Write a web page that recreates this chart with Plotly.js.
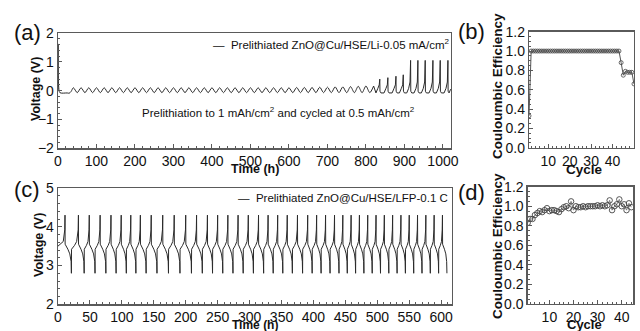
<!DOCTYPE html>
<html>
<head>
<meta charset="utf-8">
<script src="https://cdn.plot.ly/plotly-3.0.1.min.js"></script>
<style>html,body{margin:0;padding:0;background:#fff;}#chart{width:640px;height:331px;}</style>
</head>
<body>
<div id="chart"></div>
<script>
// ---------- Panel (a): Li symmetric-type cycling, voltage vs time ----------
const aStartT = [0, 0.4, 1.5, 5, 24, 29, 34];
const aStartV = [0.0, 1.62, 0.2, -0.07, -0.08, -0.09, -0.03];
const aOscT = [40,50,60,70,80,90,100,110,120,130,140,150,160,170,180,190,200,210,220,230,240,250,260,270,280,290,300,310,320,330,340,350,360,370,380,390,400,410,420,430,440,450,460,470,480,490,500,510,520,530,540,550,560,570,580,590,600,610,620,630,640,650,660,670,680,690,700,710,720,730,740,750,760,770,780,790,800,810,820];
const aOscV = [0.1,-0.07,0.1,-0.07,0.1,-0.07,0.1,-0.07,0.1,-0.07,0.1,-0.07,0.1,-0.07,0.1,-0.07,0.1,-0.07,0.1,-0.07,0.1,-0.07,0.1,-0.07,0.1,-0.07,0.1,-0.07,0.1,-0.07,0.1,-0.07,0.1,-0.07,0.1,-0.07,0.1,-0.07,0.1,-0.07,0.1,-0.07,0.1,-0.07,0.1,-0.07,0.1,-0.07,0.1,-0.07,0.1,-0.07,0.1,-0.07,0.1,-0.07,0.1,-0.07,0.11,-0.07,0.11,-0.07,0.11,-0.07,0.12,-0.07,0.12,-0.07,0.13,-0.07,0.13,-0.07,0.14,-0.07,0.15,-0.07,0.16,-0.07,0.16];
const aSpikeT = [836, 857, 878, 897, 916, 935, 954, 974, 993, 1013];
const aSpikeV = [0.40, 0.45, 0.50, 0.55, 1.05, 1.05, 1.05, 1.05, 1.05, 1.05];
const aEndT = [1017, 1020];
const aEndV = [-0.05, 0.05];

// ---------- Panel (b): Coulombic efficiency ----------
const bCycle = [1,2,3,4,5,6,7,8,9,10,11,12,13,14,15,16,17,18,19,20,21,22,23,24,25,26,27,28,29,30,31,32,33,34,35,36,37,38,39,40,41,42,43,44,45,46,47,48,49,50];
const bCE = [0.33,1.0,1.0,1.0,1.0,1.0,1.0,1.0,1.0,1.0,1.0,1.0,1.0,1.0,1.0,1.0,1.0,1.0,1.0,1.0,1.0,1.0,1.0,1.0,1.0,1.0,1.0,1.0,1.0,1.0,1.0,1.0,1.0,1.0,1.0,1.0,1.0,1.0,1.0,1.0,1.0,1.0,1.0,0.88,0.75,0.79,0.78,0.78,0.78,0.66];

// ---------- Panel (c): full cell vs LFP ----------
const cTopT = [11,32,49,66,83,99,114,129,146,164,182,200,217,234,250,266,282,298,314,329,344,359,375,391,405,419,433,446,459,472,485,498,511,524,537,550,563,576,589,602];
const cBotT = [21,41,58,75,91,107,122,138,155,173,191,209,226,242,258,274,290,306,322,337,352,367,383,398,412,426,440,453,466,479,492,505,518,531,544,557,570,583,596,609];
const cTopV = 4.3, cBotV = 2.8;
const cChargeV = [3.42, 3.52, 3.62, 3.92];   // charge plateau levels (start, mid, late, knee)
const cDischV = [3.55, 3.42, 3.30, 3.10];    // discharge plateau levels (start, mid, late, knee)
const cStartV = 3.5;

// ---------- Panel (d): Coulombic efficiency ----------
const dCycle = [1,2,3,4,5,6,7,8,9,10,11,12,13,14,15,16,17,18,19,20,21,22,23,24,25,26,27,28,29,30,31,32,33,34,35,36,37,38,39,40,41,42,43,44];
const dCE = [0.83,0.87,0.87,0.91,0.93,0.95,0.94,0.96,0.98,0.95,0.96,0.96,0.95,0.94,0.97,0.99,1.0,0.98,1.05,0.96,1.0,0.99,0.99,1.0,0.99,1.0,1.0,1.0,1.0,1.01,1.0,1.01,1.0,1.01,1.06,0.96,1.0,1.02,1.07,1.0,1.02,0.96,1.03,0.99];

// ---------- build traces ----------
const LINE = '#2b2b2b';
const aLateT = [aOscT[aOscT.length-1]], aLateV = [aOscV[aOscV.length-1]];
for (let i = 0; i < aSpikeT.length; i++) {
  const s = aSpikeT[i];
  aLateT.push(s-10, s-5, s-1.5, s, s+0.5, s+3);
  aLateV.push(-0.08, 0.08, 0.2 + (aSpikeV[i] > 0.8 ? 0.1 : 0), aSpikeV[i], -0.02, -0.08);
}
aLateT.push(...aEndT); aLateV.push(...aEndV);

const cT = [0], cV = [cStartV];
for (let i = 0; i < cTopT.length; i++) {
  const tb = i === 0 ? 0 : cBotT[i-1];
  const tt = cTopT[i];
  const d = tt - tb;
  if (i > 0) { cT.push(tb, tb+0.2, tb+0.45*d); cV.push(cBotV, cChargeV[0], cChargeV[1]); }
  cT.push(tt-0.25*d, tt-0.4, tt); cV.push(cChargeV[2], cChargeV[3], cTopV);
  const nb = cBotT[i];
  const e = nb - tt;
  cT.push(tt+0.2, tt+0.45*e, nb-0.25*e, nb-0.4, nb); cV.push(cDischV[0], cDischV[1], cDischV[2], cDischV[3], cBotV);
}

const traces = [
  {x: aStartT.concat(aOscT), y: aStartV.concat(aOscV), xaxis:'x', yaxis:'y', mode:'lines', line:{color:LINE, width:1, shape:'spline', smoothing:0.8}, showlegend:false, hoverinfo:'skip'},
  {x: aLateT, y: aLateV, xaxis:'x', yaxis:'y', mode:'lines', line:{color:LINE, width:1}, showlegend:false, hoverinfo:'skip'},
  {x: bCycle, y: bCE, xaxis:'x2', yaxis:'y2', mode:'lines+markers', line:{color:'#555', width:1}, marker:{symbol:'circle-open', size:4, color:'#444', line:{width:0.8}}, showlegend:false},
  {x: cT, y: cV, xaxis:'x3', yaxis:'y3', mode:'lines', line:{color:LINE, width:1}, showlegend:false, hoverinfo:'skip'},
  {x: dCycle, y: dCE, xaxis:'x4', yaxis:'y4', mode:'lines+markers', line:{color:'#666', width:0.8}, marker:{symbol:'circle-open', size:5.5, color:'#444', line:{width:0.9}}, showlegend:false}
];

const FONT = 'Liberation Sans, Arial, sans-serif';
const TICKFONT = 'Liberation Sans Narrow, Arial Narrow, Liberation Sans, Arial, sans-serif';
const axBase = {
  showline:true, linecolor:'#5a5a5a', linewidth:1.3, mirror:true,
  ticks:'inside', ticklen:4, tickwidth:1, tickcolor:'#5a5a5a',
  showgrid:false, zeroline:false,
  tickfont:{family:TICKFONT, size:14, color:'#111'},
  minor:{ticks:'inside', ticklen:2, tickcolor:'#5a5a5a'}
};
const px = (x) => x/640, py = (y) => 1 - y/331;
const note = (text, x, y, size, extra) => Object.assign({text:text, x:px(x), y:py(y), xref:'paper', yref:'paper', xanchor:'center', yanchor:'middle', showarrow:false, font:{family:FONT, size:size, color:'#111'}}, extra || {});

const layout = {
  width:640, height:331,
  margin:{l:0, r:0, t:0, b:0},
  paper_bgcolor:'#fff', plot_bgcolor:'#fff',
  showlegend:false,
  xaxis:  Object.assign({}, axBase, {domain:[0.0906,0.7047], anchor:'y',  range:[0,1021], dtick:100, tick0:0}),
  yaxis:  Object.assign({}, axBase, {domain:[0.552,0.9003],  anchor:'x',  range:[-2,2], dtick:1}),
  xaxis2: Object.assign({}, axBase, {domain:[0.8266,0.9906], anchor:'y2', range:[1,50], tickvals:[10,20,30,40,50]}),
  yaxis2: Object.assign({}, axBase, {domain:[0.5538,0.9042], anchor:'x2', range:[0,1.2], dtick:0.2, tickformat:'.1f'}),
  xaxis3: Object.assign({}, axBase, {domain:[0.0906,0.7063], anchor:'y3', range:[0,617], dtick:50, tick0:0}),
  yaxis3: Object.assign({}, axBase, {domain:[0.0807,0.432],  anchor:'x3', range:[2,5], dtick:1}),
  xaxis4: Object.assign({}, axBase, {domain:[0.8245,0.9895], anchor:'y4', range:[1,44.8], tickvals:[10,20,30,40]}),
  yaxis4: Object.assign({}, axBase, {domain:[0.0816,0.436],  anchor:'x4', range:[0,1.2], dtick:0.2, tickformat:'.1f'}),
  annotations: [
    note('(a)', 27, 33, 22), note('(b)', 471, 32, 22), note('(c)', 27, 189, 22), note('(d)', 471, 192, 22),
    note('<b>Time (h)</b>', 255, 169, 12.5), note('<b>Time (h)</b>', 255, 324.5, 12),
    note('<b>Voltage (V)</b>', 36, 89, 12.5, {textangle:-90}), note('<b>Voltage (V)</b>', 39, 245, 12.5, {textangle:-90}),
    note('<b>Cycle</b>', 584, 169.5, 13.5), note('<b>Cycle</b>', 584, 324, 13),
    note('<b>Couloumbic Efficiency</b>', 497, 86, 13.5, {textangle:-90}), note('<b>Couloumbic Efficiency</b>', 497, 246, 13.5, {textangle:-90}),
    note('—  Prelithiated ZnO@Cu/HSE/Li-0.05 mA/cm<sup>2</sup>', 211, 44, 11.5, {xanchor:'left'}),
    note('Prelithiation to 1 mAh/cm<sup>2</sup> and cycled at 0.5 mAh/cm<sup>2</sup>', 140, 112, 11.5, {xanchor:'left'}),
    note('—  Prelithiated ZnO@Cu/HSE/LFP-0.1 C', 236, 198, 11.5, {xanchor:'left'})
  ]
};

Plotly.newPlot('chart', traces, layout, {staticPlot:true, displayModeBar:false});
</script>
</body>
</html>
